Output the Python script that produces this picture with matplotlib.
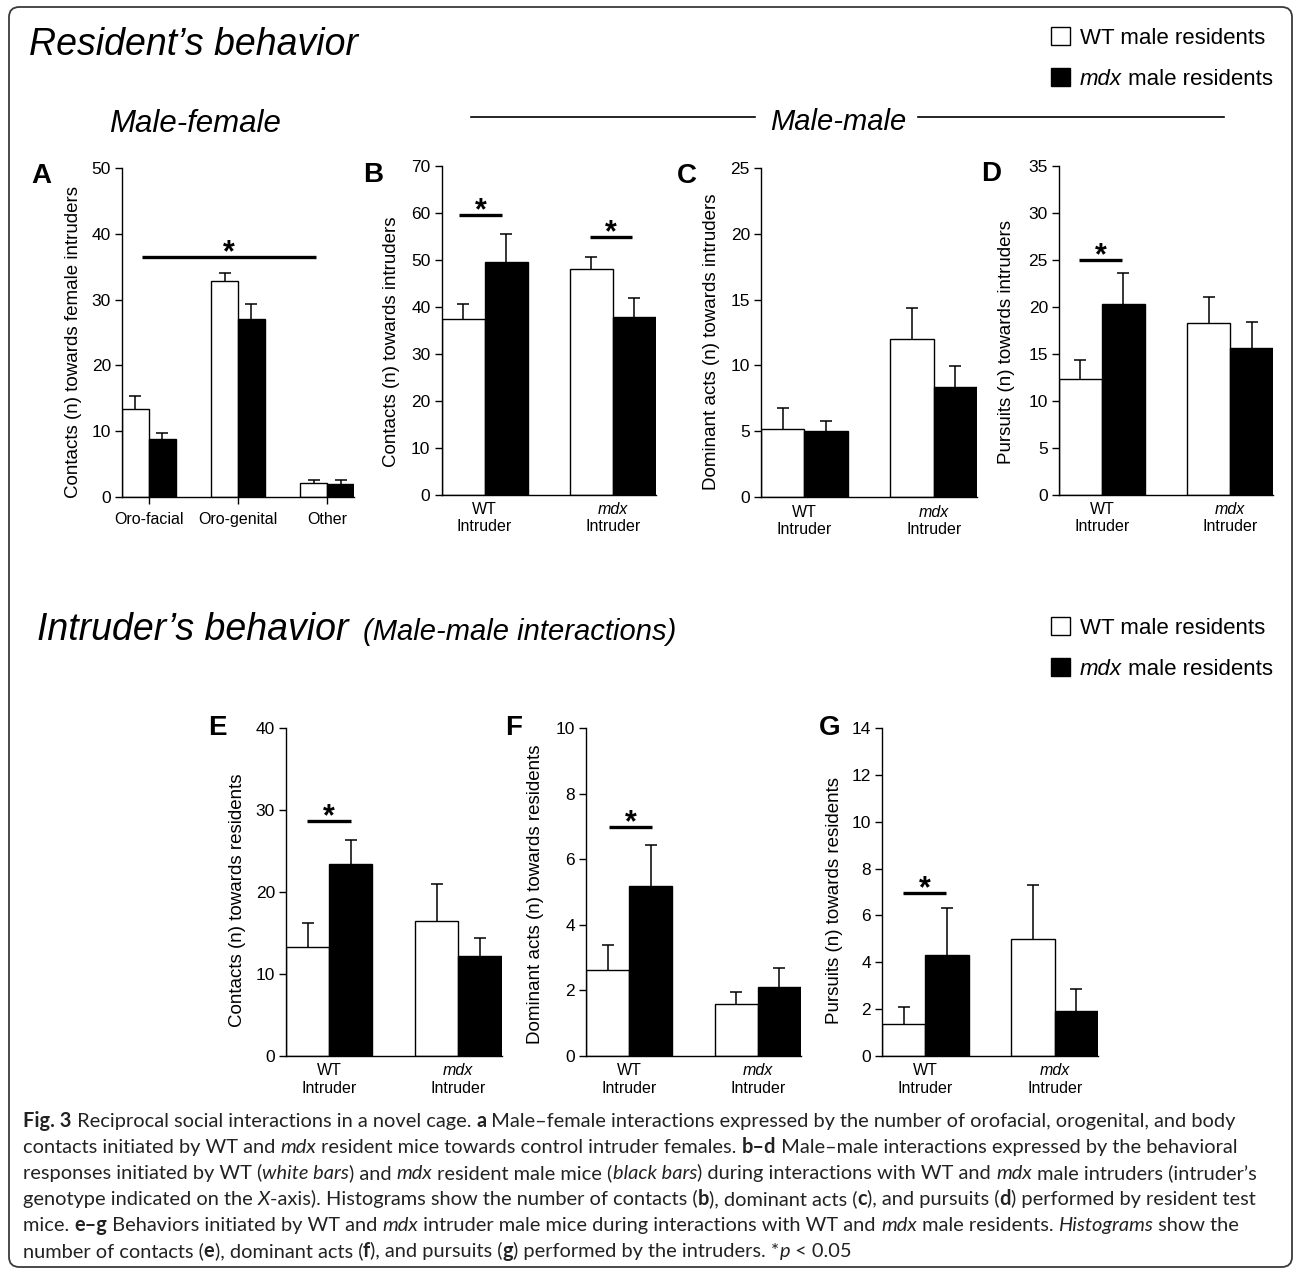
import numpy as np
import matplotlib
matplotlib.use('Agg')
import matplotlib.pyplot as plt
import matplotlib.transforms as mtransforms
from matplotlib.patches import Rectangle, FancyBboxPatch
from matplotlib.lines import Line2D

# Panel A: male-female contacts (mean and SEM, upward only)
a_groups = ['Oro-facial', 'Oro-genital', 'Other']
a_wt = [13.3, 32.8, 2.2]
a_wt_err = [2.0, 1.2, 0.35]
a_mdx = [8.8, 27.1, 2.0]
a_mdx_err = [0.95, 2.3, 0.55]

# Panels B-G: two intruder genotypes
intruders = ['WT', 'mdx']
b_wt = [37.45, 48.0]
b_wt_err = [3.25, 2.6]
b_mdx = [49.6, 37.8]
b_mdx_err = [6.0, 4.1]

c_wt = [5.13, 12.0]
c_wt_err = [1.67, 2.37]
c_mdx = [5.03, 8.35]
c_mdx_err = [0.73, 1.62]

d_wt = [12.3, 18.3]
d_wt_err = [2.06, 2.76]
d_mdx = [20.35, 15.67]
d_mdx_err = [3.25, 2.73]

e_wt = [13.27, 16.52]
e_wt_err = [3.01, 4.44]
e_mdx = [23.44, 12.17]
e_mdx_err = [2.93, 2.19]

f_wt = [2.62, 1.59]
f_wt_err = [0.75, 0.36]
f_mdx = [5.19, 2.1]
f_mdx_err = [1.25, 0.59]

g_wt = [1.35, 5.0]
g_wt_err = [0.73, 2.32]
g_mdx = [4.32, 1.92]
g_mdx_err = [1.98, 0.94]

# Significance bars: (x start, x end, height)
a_sig = [(-0.08, 1.876, 36.5)]
b_sig = [(-0.2, 0.135, 59.6), (0.82, 1.15, 54.8)]
d_sig = [(-0.178, 0.155, 25.0)]
e_sig = [(-0.174, 0.167, 28.65)]
f_sig = [(-0.155, 0.178, 6.99)]
g_sig = [(-0.17, 0.16, 6.96)]

W, H = 1295, 1271
plt.rcParams['font.family'] = ['Liberation Sans', 'DejaVu Sans']
fig = plt.figure(figsize=(W / 100, H / 100), dpi=100)


def px_axes(left, top, right, bottom):
    return fig.add_axes([left / W, 1 - bottom / H, (right - left) / W, (bottom - top) / H])


def ftext(x, y, s, **kw):
    return fig.text(x / W, 1 - y / H, s, **kw)


def draw_bars(ax, wt, wt_err, mdx, mdx_err, ymax, step, width, ylabel, label_xy, sig):
    n = len(wt)
    xs = np.arange(n)
    for offset, vals, errs, fc in [(-width / 2, wt, wt_err, 'white'), (width / 2, mdx, mdx_err, 'black')]:
        vals = np.array(vals)
        tops = vals + np.array(errs)
        ax.bar(xs + offset, vals, width, color=fc, edgecolor='black', linewidth=1.0, zorder=2)
        # upper half of the SEM only, with a cap
        ax.vlines(xs + offset, vals, tops, color='black', lw=1.1, zorder=3)
        ax.plot(xs + offset, tops, ls='none', marker='_', ms=8, mew=1.1, color='black', zorder=3)
    ax.set_xlim(-width, n - 1 + width)
    ax.set_ylim(0, ymax)
    ax.set_yticks(np.arange(0, ymax + 0.01, step))
    ax.spines['top'].set_visible(False)
    ax.spines['right'].set_visible(False)
    ax.spines['left'].set_linewidth(1.0)
    ax.spines['bottom'].set_linewidth(1.0)
    ax.tick_params(axis='y', direction='out', length=5, width=1, labelsize=12.5, pad=3)
    ax.set_xticks(xs)
    ax.set_xticklabels([])
    ax.tick_params(axis='x', length=0)
    ax.set_facecolor('none')
    # y label
    ax.set_ylabel(ylabel, fontsize=13.5)
    ax.yaxis.label.set_va('center')
    ax.yaxis.set_label_coords(*label_xy)
    # significance lines with stars
    star_tr = mtransforms.offset_copy(ax.transData, fig=fig, y=-3, units='points')
    for x0, x1, y in sig:
        ax.plot([x0, x1], [y, y], color='black', lw=2.4, solid_capstyle='butt', clip_on=False)
        ax.text((x0 + x1) / 2, y, '*', ha='center', va='baseline', fontsize=22,
                fontweight='bold', transform=star_tr)


def intruder_labels(ax, dy1, dy2):
    for i, g in enumerate(intruders):
        ax.annotate(g, xy=(i, 0), xycoords=('data', 'axes fraction'), xytext=(0, -dy1),
                    textcoords='offset points', ha='center', va='center', fontsize=11.5,
                    fontstyle='italic' if g == 'mdx' else 'normal')
        ax.annotate('Intruder', xy=(i, 0), xycoords=('data', 'axes fraction'), xytext=(0, -dy2),
                    textcoords='offset points', ha='center', va='center', fontsize=11.5)


# Panel A
ax_a = px_axes(122, 168, 354, 497)
draw_bars(ax_a, a_wt, a_wt_err, a_mdx, a_mdx_err, 50, 10, 0.3,
          'Contacts (n) towards female intruders', (-0.211, 0.471), a_sig)
ax_a.tick_params(axis='x', direction='out', length=5, width=1)
for i, g in enumerate(a_groups):
    ax_a.annotate(g, xy=(i, 0), xycoords=('data', 'axes fraction'), xytext=(0, -16.5),
                  textcoords='offset points', ha='center', va='center', fontsize=11.5)

# Panels B-D
ax_b = px_axes(441.5, 166, 656, 495)
draw_bars(ax_b, b_wt, b_wt_err, b_mdx, b_mdx_err, 70, 10, 0.335,
          'Contacts (n) towards intruders', (-0.231, 0.465), b_sig)
intruder_labels(ax_b, 10.8, 23)

ax_c = px_axes(761, 168, 977, 497)
draw_bars(ax_c, c_wt, c_wt_err, c_mdx, c_mdx_err, 25, 5, 0.335,
          'Dominant acts (n) towards intruders', (-0.227, 0.473), [])
intruder_labels(ax_c, 10.8, 23.5)

ax_d = px_axes(1059, 166, 1273, 495)
draw_bars(ax_d, d_wt, d_wt_err, d_mdx, d_mdx_err, 35, 5, 0.335,
          'Pursuits (n) towards intruders', (-0.243, 0.464), d_sig)
intruder_labels(ax_d, 10.8, 23)

# Panels E-G
ax_e = px_axes(286, 728, 501.5, 1056)
draw_bars(ax_e, e_wt, e_wt_err, e_mdx, e_mdx_err, 40, 10, 0.335,
          'Contacts (n) towards residents', (-0.227, 0.476), e_sig)
intruder_labels(ax_e, 10.5, 23.5)

ax_f = px_axes(586, 728, 801, 1056)
draw_bars(ax_f, f_wt, f_wt_err, f_mdx, f_mdx_err, 10, 2, 0.335,
          'Dominant acts (n) towards residents', (-0.233, 0.494), f_sig)
intruder_labels(ax_f, 10.5, 23.5)

ax_g = px_axes(882, 728, 1098, 1056)
draw_bars(ax_g, g_wt, g_wt_err, g_mdx, g_mdx_err, 14, 2, 0.335,
          'Pursuits (n) towards residents', (-0.222, 0.473), g_sig)
intruder_labels(ax_g, 10.5, 23.5)

# Panel letters
for letter, x, y in [('A', 41, 176), ('B', 373, 175), ('C', 687, 176), ('D', 991, 174),
                     ('E', 217.5, 728.5), ('F', 514, 728), ('G', 830, 728)]:
    ftext(x, y, letter, ha='center', va='center', fontsize=20, fontweight='bold')

# Section titles
ftext(29, 55, 'Resident\u2019s behavior', fontsize=27, fontstyle='italic', va='baseline')
ftext(109, 132, 'Male-female', fontsize=22.5, fontstyle='italic', va='baseline')
ftext(838.5, 130, 'Male-male', fontsize=21, fontstyle='italic', va='baseline', ha='center')
for x0, x1 in [(471, 755), (918, 1224)]:
    fig.add_artist(Line2D([x0 / W, x1 / W], [1 - 117 / H] * 2, color='black', lw=1.2))
ftext(37, 640, 'Intruder\u2019s behavior', fontsize=27, fontstyle='italic', va='baseline')
ftext(363, 640, '(Male-male interactions)', fontsize=21, fontstyle='italic', va='baseline')

renderer = fig.canvas.get_renderer()
styles = {'n': {}, 'b': {'fontweight': 'bold'}, 'i': {'fontstyle': 'italic'}}


def run_width(txt, kw):
    t = fig.text(0, 0, '|' + txt + '|', **kw)
    w1 = t.get_window_extent(renderer).width
    t.set_text('||')
    w2 = t.get_window_extent(renderer).width
    t.remove()
    return w1 - w2


def draw_runs(x, y, runs, family, size, color='black'):
    for txt, st in runs:
        kw = dict(family=family, fontsize=size, color=color, **styles[st])
        ftext(x, y, txt, va='baseline', ha='left', **kw)
        x += run_width(txt, kw)


# Legends
for y1, y2 in [(36, 77), (626, 667)]:
    for yc, fc, runs in [(y1, 'white', [('WT male residents', 'n')]),
                         (y2, 'black', [('mdx', 'i'), (' male residents', 'n')])]:
        fig.add_artist(Rectangle((1051 / W, 1 - (yc + 9) / H), 19 / W, 18 / H,
                                 transform=fig.transFigure, facecolor=fc,
                                 edgecolor='black', lw=1.0))
        draw_runs(1080, yc + 8, runs, 'Liberation Sans', 16)

# Caption
caption = [
    [('Fig. 3', 'b'), (' Reciprocal social interactions in a novel cage. ', 'n'), ('a', 'b'),
     (' Male\u2013female interactions expressed by the number of orofacial, orogenital, and body', 'n')],
    [('contacts initiated by WT and ', 'n'), ('mdx', 'i'),
     (' resident mice towards control intruder females. ', 'n'), ('b\u2013d', 'b'),
     (' Male\u2013male interactions expressed by the behavioral', 'n')],
    [('responses initiated by WT (', 'n'), ('white bars', 'i'), (') and ', 'n'), ('mdx', 'i'),
     (' resident male mice (', 'n'), ('black bars', 'i'),
     (') during interactions with WT and ', 'n'), ('mdx', 'i'),
     (' male intruders (intruder\u2019s', 'n')],
    [('genotype indicated on the ', 'n'), ('X', 'i'),
     ('-axis). Histograms show the number of contacts (', 'n'), ('b', 'b'),
     ('), dominant acts (', 'n'), ('c', 'b'), ('), and pursuits (', 'n'), ('d', 'b'),
     (') performed by resident test', 'n')],
    [('mice. ', 'n'), ('e\u2013g', 'b'), (' Behaviors initiated by WT and ', 'n'), ('mdx', 'i'),
     (' intruder male mice during interactions with WT and ', 'n'), ('mdx', 'i'),
     (' male residents. ', 'n'), ('Histograms', 'i'), (' show the', 'n')],
    [('number of contacts (', 'n'), ('e', 'b'), ('), dominant acts (', 'n'), ('f', 'b'),
     ('), and pursuits (', 'n'), ('g', 'b'), (') performed by the intruders. *', 'n'),
     ('p', 'i'), (' < 0.05', 'n')],
]
cap_family = 'Lato'
total = sum(run_width(t, dict(family=cap_family, fontsize=12, **styles[s])) for t, s in caption[3])
cap_size = 12 * 1228 / total
for k, line in enumerate(caption):
    draw_runs(23, 1127 + 26 * k, line, cap_family, cap_size, color='#222222')

# Border round everything
fig.add_artist(FancyBboxPatch((9 / W, 1 - 1267 / H), (1292 - 9) / W, (1267 - 7) / H,
                              boxstyle='round,pad=0,rounding_size=0.008',
                              transform=fig.transFigure, fill=False,
                              edgecolor='#3a3a3a', lw=1.3))

fig.savefig('out.png', dpi=100)
